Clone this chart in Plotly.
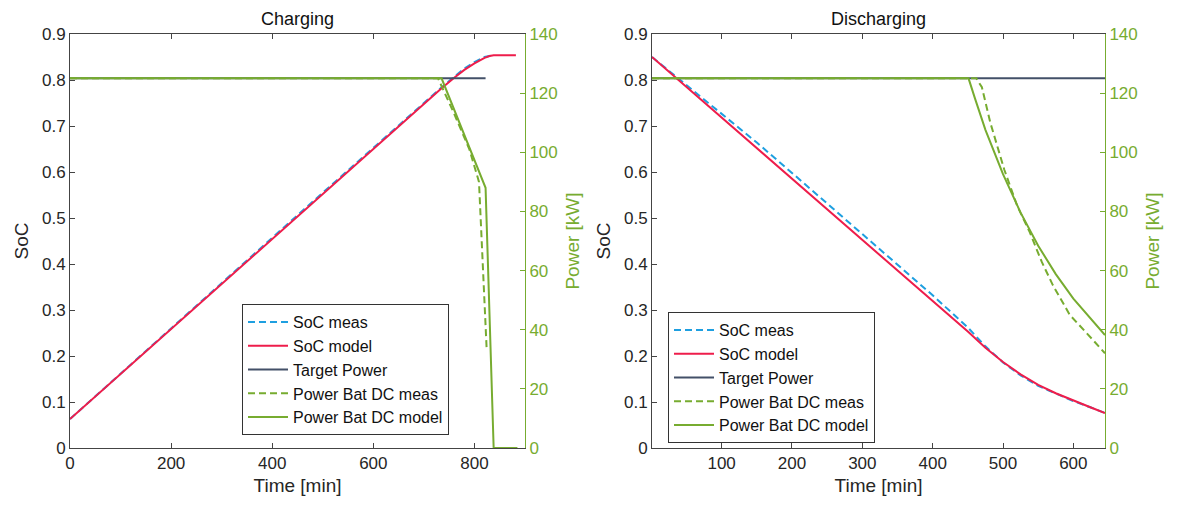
import plotly.graph_objects as go

# ---------------- Charging data ----------------
ch_t_soc_model = [0, 100, 200, 300, 400, 500, 600, 700, 735, 760, 780, 800, 820, 830, 838, 882]
ch_soc_model = [0.063, 0.161, 0.259, 0.357, 0.455, 0.553, 0.651, 0.748, 0.782, 0.805, 0.822, 0.836, 0.848, 0.852, 0.854, 0.854]
ch_t_soc_meas = [0, 100, 200, 300, 400, 500, 600, 700, 735, 760, 780, 800, 820, 832]
ch_soc_meas = [0.063, 0.162, 0.260, 0.358, 0.457, 0.555, 0.653, 0.750, 0.784, 0.807, 0.825, 0.839, 0.850, 0.853]
ch_t_target = [0, 822]
ch_p_target = [125, 125]
ch_t_p_model = [0, 735, 822, 838, 885]
ch_p_model = [125, 125, 88, 0, 0]
ch_t_p_meas = [0, 728, 760, 790, 809, 824]
ch_p_meas = [125, 125, 113, 101, 90, 34]

# ---------------- Discharging data ----------------
dis_t_soc = [1, 50, 100, 150, 200, 250, 300, 350, 400, 450, 475, 500, 525, 550, 575, 600, 625, 645]
dis_soc_model = [0.850, 0.785, 0.718, 0.652, 0.585, 0.518, 0.452, 0.386, 0.320, 0.253, 0.218, 0.187, 0.160, 0.137, 0.119, 0.103, 0.088, 0.076]
dis_soc_meas = [0.850, 0.789, 0.728, 0.664, 0.598, 0.531, 0.465, 0.399, 0.332, 0.262, 0.221, 0.186, 0.158, 0.135, 0.118, 0.102, 0.088, 0.076]
dis_t_target = [1, 645]
dis_p_target = [125, 125]
dis_t_p_model = [1, 451, 460, 475, 500, 525, 550, 575, 600, 625, 645]
dis_p_model = [125, 125, 118.3, 107.6, 92.6, 79.6, 68.4, 58.8, 50.5, 43.5, 38.2]
dis_t_p_meas = [1, 462, 470, 482, 502, 520, 538, 555, 571, 595, 628, 645]
dis_p_meas = [125, 125, 122, 110, 94, 82, 73, 63, 55, 45, 36.5, 32]

soc_ticks = [0, 0.1, 0.2, 0.3, 0.4, 0.5, 0.6, 0.7, 0.8, 0.9]
p_ticks = [0, 20, 40, 60, 80, 100, 120, 140]
ch_x_ticks = [0, 200, 400, 600, 800]
dis_x_ticks = [100, 200, 300, 400, 500, 600]

BLUE = "#1E9FE0"
RED = "#EE1D4B"
NAVY = "#435068"
GREEN = "#77AC30"
AX = "#444444"
FONT = "Liberation Sans, Arial, sans-serif"

W, H = 1180, 509
def fx(px):
    return px / W
def fy(py):
    return 1 - py / H

fig = go.Figure()

def add_set(xa, ya_soc, ya_p, legend, t_sm, sm, t_sme, sme, t_tg, tg, t_pm, pm, t_pme, pme):
    fig.add_trace(go.Scatter(x=t_sme, y=sme, mode="lines", name="SoC meas",
                             line=dict(color=BLUE, width=2, dash="7px,4px"),
                             xaxis=xa, yaxis=ya_soc, legend=legend))
    fig.add_trace(go.Scatter(x=t_sm, y=sm, mode="lines", name="SoC model",
                             line=dict(color=RED, width=2),
                             xaxis=xa, yaxis=ya_soc, legend=legend))
    fig.add_trace(go.Scatter(x=t_tg, y=tg, mode="lines", name="Target Power",
                             line=dict(color=NAVY, width=2),
                             xaxis=xa, yaxis=ya_p, legend=legend))
    fig.add_trace(go.Scatter(x=t_pme, y=pme, mode="lines", name="Power Bat DC meas",
                             line=dict(color=GREEN, width=2, dash="7px,4px"),
                             xaxis=xa, yaxis=ya_p, legend=legend))
    fig.add_trace(go.Scatter(x=t_pm, y=pm, mode="lines", name="Power Bat DC model",
                             line=dict(color=GREEN, width=2),
                             xaxis=xa, yaxis=ya_p, legend=legend))

add_set("x", "y", "y3", "legend", ch_t_soc_model, ch_soc_model, ch_t_soc_meas, ch_soc_meas,
        ch_t_target, ch_p_target, ch_t_p_model, ch_p_model, ch_t_p_meas, ch_p_meas)
add_set("x2", "y2", "y4", "legend2", dis_t_soc, dis_soc_model, dis_t_soc, dis_soc_meas,
        dis_t_target, dis_p_target, dis_t_p_model, dis_p_model, dis_t_p_meas, dis_p_meas)

tickfont = dict(family=FONT, size=17, color="#262626")
titlefont = dict(family=FONT, size=19, color="#262626")
gtickfont = dict(family=FONT, size=17, color=GREEN)
gtitlefont = dict(family=FONT, size=19, color=GREEN)

ydom = [fy(448), fy(34)]
xdom1 = [fx(70), fx(525)]
xdom2 = [fx(652), fx(1105)]

common_x = dict(showline=True, linecolor=AX, linewidth=1, mirror="ticks", ticks="inside",
                ticklen=5, tickcolor=AX, showgrid=False, zeroline=False, tickfont=tickfont,
                title_font=titlefont, title_standoff=6, automargin=False)
common_ysoc = dict(showline=True, linecolor=AX, linewidth=1, ticks="inside", ticklen=5,
                   tickcolor=AX, showgrid=False, zeroline=False, tickfont=tickfont,
                   title_font=titlefont, range=[0, 0.9], tickvals=soc_ticks,
                   ticktext=[f"{v:g}" for v in soc_ticks], title_text="SoC", domain=ydom,
                   title_standoff=8, automargin=False)
common_yp = dict(showline=True, linecolor=GREEN, linewidth=1, ticks="inside", ticklen=5,
                 tickcolor=GREEN, showgrid=False, zeroline=False, tickfont=gtickfont,
                 title_font=gtitlefont, range=[0, 140], tickvals=p_ticks, side="right",
                 title_text="Power [kW]", title_standoff=8, automargin=False)

legend_font = dict(family=FONT, size=16, color="#111111")

fig.update_layout(
    width=W, height=H,
    margin=dict(l=0, r=0, t=0, b=0),
    paper_bgcolor="white", plot_bgcolor="white",
    font=dict(family=FONT),
    xaxis=dict(domain=xdom1, range=[0, 900], tickvals=ch_x_ticks, title_text="Time [min]",
               anchor="y", **common_x),
    xaxis2=dict(domain=xdom2, range=[1, 645], tickvals=dis_x_ticks, title_text="Time [min]",
                anchor="y2", **common_x),
    yaxis=dict(anchor="x", **common_ysoc),
    yaxis2=dict(anchor="x2", **common_ysoc),
    yaxis3=dict(anchor="x", overlaying="y", **common_yp),
    yaxis4=dict(anchor="x2", overlaying="y2", **common_yp),
    legend=dict(x=fx(242), y=fy(304), xanchor="left", yanchor="top", bgcolor="white",
                bordercolor="#333333", borderwidth=1, font=legend_font,
                tracegroupgap=0, itemwidth=40),
    legend2=dict(x=fx(668), y=fy(312), xanchor="left", yanchor="top", bgcolor="white",
                 bordercolor="#333333", borderwidth=1, font=legend_font,
                 tracegroupgap=0, itemwidth=40),
    annotations=[
        dict(text="Charging", x=(xdom1[0] + xdom1[1]) / 2, y=fy(31), xref="paper", yref="paper",
             xanchor="center", yanchor="bottom", showarrow=False,
             font=dict(family=FONT, size=18, color="#111111")),
        dict(text="Discharging", x=(xdom2[0] + xdom2[1]) / 2, y=fy(31), xref="paper", yref="paper",
             xanchor="center", yanchor="bottom", showarrow=False,
             font=dict(family=FONT, size=18, color="#111111")),
    ],
)

fig.write_html("out.html")
